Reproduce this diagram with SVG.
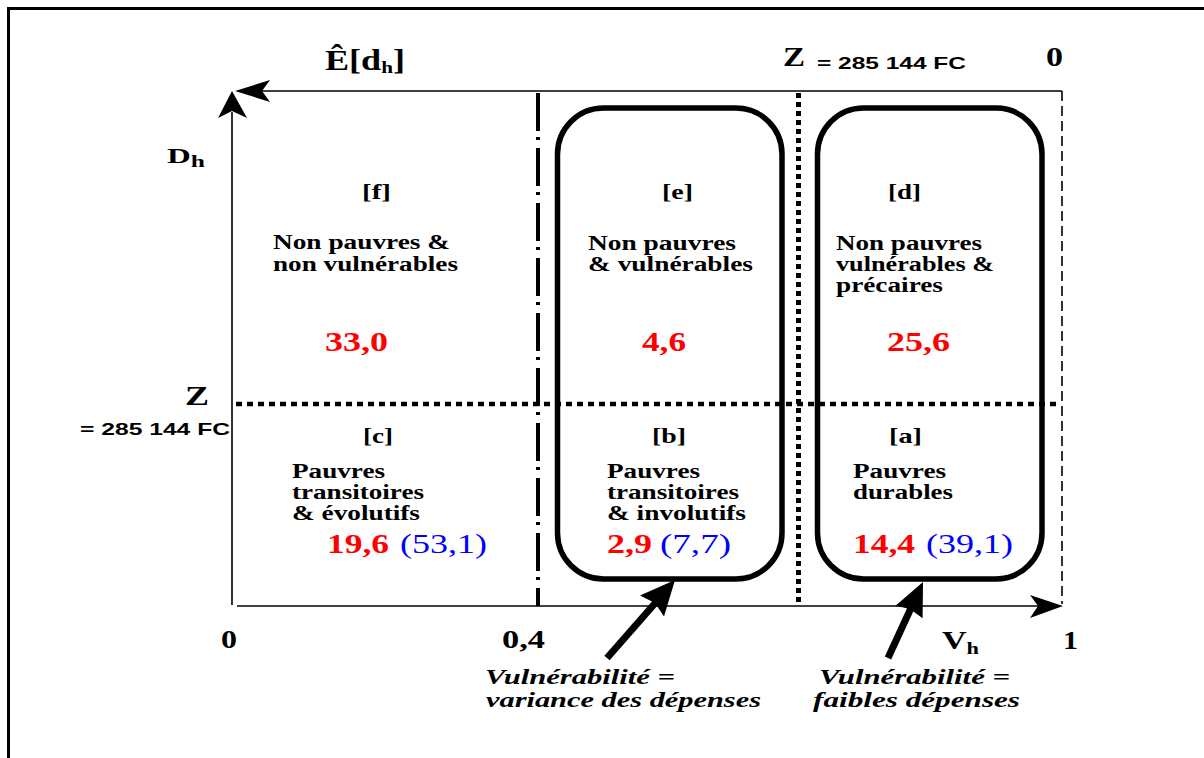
<svg xmlns="http://www.w3.org/2000/svg" width="1204" height="758" viewBox="0 0 1204 758">
<style>
.s{font-family:"Liberation Serif","Times New Roman",serif;font-weight:bold;fill:#000}
.sa{font-family:"Liberation Sans",Arial,sans-serif;font-weight:bold;fill:#000}
.c{font-size:20px}
.k{font-size:22px}
.r{font-size:28px;fill:#ff0000}
.b{font-family:"Liberation Serif","Times New Roman",serif;font-weight:normal;font-size:28px;fill:#0000ff}
.it{font-size:22px;font-style:italic}
.ln{fill:none;stroke:#000}
</style>
<rect x="0" y="0" width="1204" height="758" fill="#fff"/>
<!-- frame -->
<line x1="7" y1="8.5" x2="1204" y2="8.5" stroke="#000" stroke-width="3"/>
<line x1="8.5" y1="7" x2="8.5" y2="758" stroke="#000" stroke-width="3"/>

<!-- axes and grid -->
<g id="axes">
<line class="ln" x1="232" y1="605" x2="232" y2="112" stroke-width="1.6"/>
<polygon points="232,91 218,118 232,111 247,118" fill="#000"/>
<line class="ln" x1="1062" y1="91" x2="262" y2="91" stroke-width="1.6"/>
<polygon points="235,91 270,80 262,91 270,102" fill="#000"/>
<line class="ln" x1="237" y1="606" x2="1040" y2="606" stroke-width="1.6"/>
<polygon points="1063,606 1030,595 1038,606 1030,618" fill="#000"/>
<line class="ln" x1="1062" y1="91" x2="1062" y2="604" stroke-width="1.6" stroke-dasharray="10 5"/>
<line class="ln" x1="538" y1="93" x2="538" y2="606" stroke-width="4" stroke-dasharray="38 6 3 8"/>
<line class="ln" x1="798.5" y1="93" x2="798.5" y2="606" stroke-width="5" stroke-dasharray="5 4"/>
<line class="ln" x1="236" y1="404" x2="1060" y2="404" stroke-width="4.5" stroke-dasharray="6 5"/>
</g>

<!-- axis labels -->
<g id="labels">
<text class="s" x="325" y="70" font-size="29" textLength="80" lengthAdjust="spacingAndGlyphs">Ê[d<tspan font-size="17" dy="3">h</tspan><tspan dy="-3">]</tspan></text>
<text class="s" x="167" y="163" font-size="22" textLength="38" lengthAdjust="spacingAndGlyphs">D<tspan font-size="17" dy="4">h</tspan></text>
<text class="s" x="783" y="66" font-size="28" textLength="22" lengthAdjust="spacingAndGlyphs">Z</text>
<text class="sa" x="817" y="69" font-size="17" textLength="149" lengthAdjust="spacingAndGlyphs">= 285 144 FC</text>
<text class="s" x="1046" y="66" font-size="27" textLength="17" lengthAdjust="spacingAndGlyphs">0</text>
<text class="s" x="185" y="405" font-size="28" textLength="24" lengthAdjust="spacingAndGlyphs">Z</text>
<text class="sa" x="80" y="435" font-size="17" textLength="150" lengthAdjust="spacingAndGlyphs">= 285 144 FC</text>
<text class="s" x="221" y="648" font-size="26" textLength="16" lengthAdjust="spacingAndGlyphs">0</text>
<text class="s" x="502" y="648" font-size="26" textLength="43" lengthAdjust="spacingAndGlyphs">0,4</text>
<text class="s" x="942" y="649" font-size="26" textLength="37" lengthAdjust="spacingAndGlyphs">V<tspan font-size="17" dy="5">h</tspan></text>
<text class="s" x="1063" y="649" font-size="26" textLength="15" lengthAdjust="spacingAndGlyphs">1</text>
</g>

<!-- boxes -->
<g id="box-eb"><rect x="557.5" y="108" width="224.5" height="471" rx="46" ry="46" fill="none" stroke="#000" stroke-width="5.5"/></g>
<g id="box-da"><rect x="817.5" y="108" width="224.5" height="471" rx="46" ry="46" fill="none" stroke="#000" stroke-width="5.5"/></g>

<!-- cells -->
<g id="cell-f">
<text class="s k" x="362" y="199" textLength="29" lengthAdjust="spacingAndGlyphs">[f]</text>
<text class="s c" x="273" y="249" textLength="177" lengthAdjust="spacingAndGlyphs">Non pauvres &amp;</text>
<text class="s c" x="273" y="271" textLength="185" lengthAdjust="spacingAndGlyphs">non vulnérables</text>
<text class="s r" x="325" y="351" textLength="63" lengthAdjust="spacingAndGlyphs">33,0</text>
</g>
<g id="cell-e">
<text class="s k" x="662" y="199" textLength="31" lengthAdjust="spacingAndGlyphs">[e]</text>
<text class="s c" x="588" y="250" textLength="148" lengthAdjust="spacingAndGlyphs">Non pauvres</text>
<text class="s c" x="588" y="271" textLength="165" lengthAdjust="spacingAndGlyphs">&amp; vulnérables</text>
<text class="s r" x="642" y="351" textLength="44" lengthAdjust="spacingAndGlyphs">4,6</text>
</g>
<g id="cell-d">
<text class="s k" x="888" y="199" textLength="33" lengthAdjust="spacingAndGlyphs">[d]</text>
<text class="s c" x="836" y="250" textLength="146" lengthAdjust="spacingAndGlyphs">Non pauvres</text>
<text class="s c" x="836" y="271" textLength="158" lengthAdjust="spacingAndGlyphs">vulnérables &amp;</text>
<text class="s c" x="836" y="292" textLength="107" lengthAdjust="spacingAndGlyphs">précaires</text>
<text class="s r" x="887" y="351" textLength="63" lengthAdjust="spacingAndGlyphs">25,6</text>
</g>
<g id="cell-c">
<text class="s k" x="363" y="443" textLength="30" lengthAdjust="spacingAndGlyphs">[c]</text>
<text class="s c" x="292" y="478" textLength="93" lengthAdjust="spacingAndGlyphs">Pauvres</text>
<text class="s c" x="292" y="499" textLength="132" lengthAdjust="spacingAndGlyphs">transitoires</text>
<text class="s c" x="292" y="520" textLength="128" lengthAdjust="spacingAndGlyphs">&amp; évolutifs</text>
<text class="s r" x="327" y="553" textLength="62" lengthAdjust="spacingAndGlyphs">19,6</text>
<text class="b" x="400" y="553" textLength="87" lengthAdjust="spacingAndGlyphs">(53,1)</text>
</g>
<g id="cell-b">
<text class="s k" x="652" y="443" textLength="34" lengthAdjust="spacingAndGlyphs">[b]</text>
<text class="s c" x="607" y="478" textLength="93" lengthAdjust="spacingAndGlyphs">Pauvres</text>
<text class="s c" x="607" y="499" textLength="132" lengthAdjust="spacingAndGlyphs">transitoires</text>
<text class="s c" x="607" y="520" textLength="139" lengthAdjust="spacingAndGlyphs">&amp; involutifs</text>
<text class="s r" x="607" y="553" textLength="45" lengthAdjust="spacingAndGlyphs">2,9</text>
<text class="b" x="660" y="553" textLength="71" lengthAdjust="spacingAndGlyphs">(7,7)</text>
</g>
<g id="cell-a">
<text class="s k" x="889" y="443" textLength="33" lengthAdjust="spacingAndGlyphs">[a]</text>
<text class="s c" x="853" y="478" textLength="93" lengthAdjust="spacingAndGlyphs">Pauvres</text>
<text class="s c" x="853" y="499" textLength="100" lengthAdjust="spacingAndGlyphs">durables</text>
<text class="s r" x="853" y="553" textLength="62" lengthAdjust="spacingAndGlyphs">14,4</text>
<text class="b" x="926" y="553" textLength="87" lengthAdjust="spacingAndGlyphs">(39,1)</text>
</g>

<!-- notes -->
<g id="note-variance">
<text class="s it" x="485" y="684" textLength="190" lengthAdjust="spacingAndGlyphs">Vulnérabilité =</text>
<text class="s it" x="486" y="707" textLength="275" lengthAdjust="spacingAndGlyphs">variance des dépenses</text>
</g>
<g id="note-faibles">
<text class="s it" x="819" y="684" textLength="191" lengthAdjust="spacingAndGlyphs">Vulnérabilité =</text>
<text class="s it" x="813" y="707" textLength="207" lengthAdjust="spacingAndGlyphs">faibles dépenses</text>
</g>

<!-- connectors -->
<g id="connectors">
<line x1="607" y1="658" x2="657" y2="601" stroke="#000" stroke-width="7"/>
<polygon points="675,580 640,595.5 655,603 664,616.5" fill="#000"/>
<line x1="888" y1="658" x2="911" y2="608" stroke="#000" stroke-width="7"/>
<polygon points="923,582 895.5,605.7 910,609 922.6,618.3" fill="#000"/>
</g>
</svg>
